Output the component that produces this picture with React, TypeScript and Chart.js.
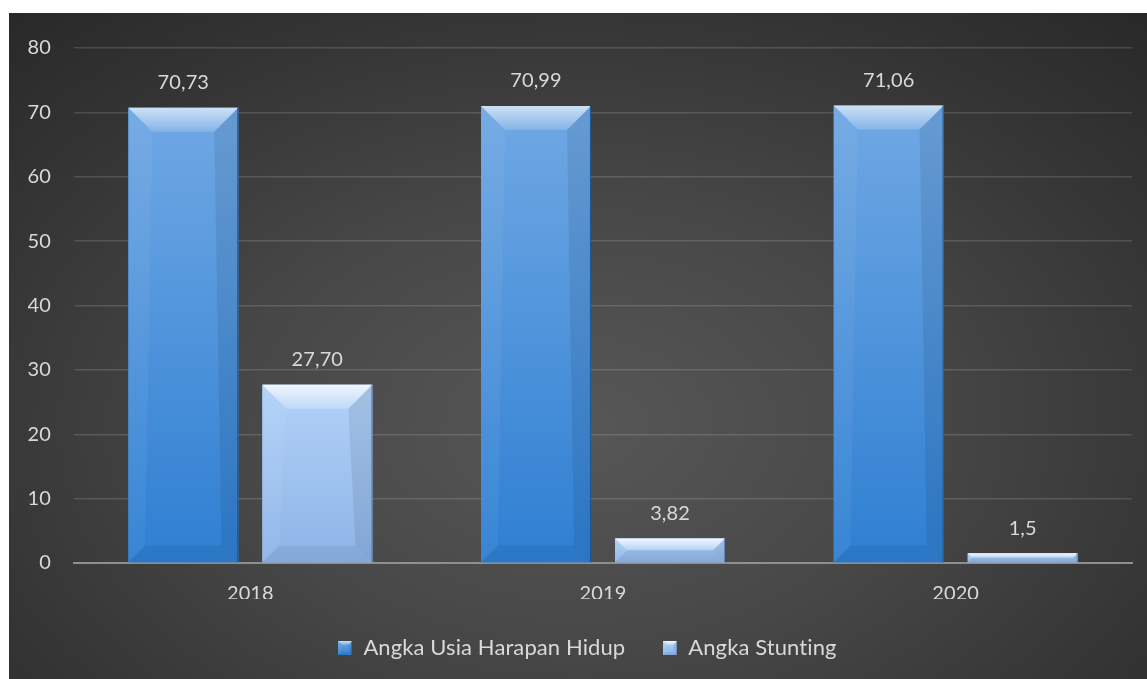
import React, { useEffect, useRef } from "react";
import { Chart, registerables } from "chart.js";

Chart.register(...registerables);

const categories = ["2018", "2019", "2020"];
const seriesNames = ["Angka Usia Harapan Hidup", "Angka Stunting"];
const lifeExpectancy = [70.73, 70.99, 71.06];
const stunting = [27.7, 3.82, 1.5];
const lifeExpectancyLabels = ["70,73", "70,99", "71,06"];
const stuntingLabels = ["27,70", "3,82", "1,5"];
const yMin = 0;
const yMax = 80;
const yStep = 10;

const FONT = "Lato, 'Open Sans', sans-serif";
const TEXT = "#d9d9d9";

type Pal = { top: string; bottom: string; base: string; edge: string; hi: number };
const palettes: Pal[] = [
  { top: "#70a8e4", bottom: "#2e7fd2", base: "#3b85d2", edge: "#1b5591", hi: 0.45 },
  { top: "#b2d2f8", bottom: "#8db4e7", base: "#9dc1ef", edge: "#6088bb", hi: 0.6 },
];

function drawBevelBox(ctx: CanvasRenderingContext2D, l: number, t: number, r: number, b: number, pal: Pal, bevelMax: number) {
  const w = r - l;
  const h = b - t;
  if (h <= 0 || w <= 0) return;
  const bv = Math.min(bevelMax, h / 2, w / 2);
  const bb = Math.min(bevelMax * 0.7, h / 2, w / 2);
  ctx.save();
  const g = ctx.createLinearGradient(0, t, 0, b);
  g.addColorStop(0, pal.top);
  g.addColorStop(1, pal.bottom);
  ctx.fillStyle = g;
  ctx.fillRect(l, t, w, h);
  // top bevel
  const tg = ctx.createLinearGradient(0, t, 0, t + bv);
  tg.addColorStop(0, `rgba(255,255,255,${pal.hi + 0.2})`);
  tg.addColorStop(1, `rgba(255,255,255,${pal.hi * 0.35})`);
  ctx.fillStyle = tg;
  ctx.beginPath();
  ctx.moveTo(l, t);
  ctx.lineTo(r, t);
  ctx.lineTo(r - bv, t + bv);
  ctx.lineTo(l + bv, t + bv);
  ctx.closePath();
  ctx.fill();
  // left bevel
  ctx.fillStyle = "rgba(255,255,255,0.05)";
  ctx.beginPath();
  ctx.moveTo(l, t);
  ctx.lineTo(l + bv, t + bv);
  ctx.lineTo(l + bb, b - bb);
  ctx.lineTo(l, b);
  ctx.closePath();
  ctx.fill();
  // right bevel
  ctx.fillStyle = "rgba(0,0,0,0.08)";
  ctx.beginPath();
  ctx.moveTo(r, t);
  ctx.lineTo(r - bv, t + bv);
  ctx.lineTo(r - bb, b - bb);
  ctx.lineTo(r, b);
  ctx.closePath();
  ctx.fill();
  // bottom bevel
  ctx.fillStyle = "rgba(0,0,0,0.06)";
  ctx.beginPath();
  ctx.moveTo(l, b);
  ctx.lineTo(l + bb, b - bb);
  ctx.lineTo(r - bb, b - bb);
  ctx.lineTo(r, b);
  ctx.closePath();
  ctx.fill();
  // edges
  ctx.strokeStyle = pal.edge;
  ctx.lineWidth = 1;
  ctx.beginPath();
  ctx.moveTo(r - 0.5, t);
  ctx.lineTo(r - 0.5, b);
  ctx.stroke();
  ctx.restore();
}

const noLigaturesPlugin = {
  id: "noLigatures",
  beforeLayout(chart: any) {
    (chart.ctx as any).letterSpacing = "0.1px";
  },
  beforeDraw(chart: any) {
    (chart.ctx as any).letterSpacing = "0.1px";
  },
};

const bevelPlugin = {
  id: "bevelBars",
  afterDatasetsDraw(chart: any) {
    const ctx = chart.ctx as CanvasRenderingContext2D;
    chart.data.datasets.forEach((_ds: any, di: number) => {
      const meta = chart.getDatasetMeta(di);
      meta.data.forEach((el: any) => {
        const { x, y, base, width } = el.getProps(["x", "y", "base", "width"], true);
        drawBevelBox(ctx, x - width / 2, Math.min(y, base), x + width / 2, Math.max(y, base), palettes[di], 24);
      });
    });
  },
};

const valueLabels = [lifeExpectancyLabels, stuntingLabels];

const labelPlugin = {
  id: "valueLabels",
  afterDatasetsDraw(chart: any) {
    const ctx = chart.ctx as CanvasRenderingContext2D;
    ctx.save();
    ctx.font = `20px ${FONT}`;
    ctx.fillStyle = TEXT;
    ctx.textAlign = "center";
    ctx.textBaseline = "middle";
    chart.data.datasets.forEach((_ds: any, di: number) => {
      const meta = chart.getDatasetMeta(di);
      meta.data.forEach((el: any, i: number) => {
        const { x, y } = el.getProps(["x", "y"], true);
        ctx.fillText(valueLabels[di][i], x, y - 25);
      });
    });
    ctx.restore();
  },
};

function makeIcon(pal: Pal): HTMLCanvasElement {
  const c = document.createElement("canvas");
  c.width = 14;
  c.height = 14;
  const cx = c.getContext("2d")!;
  drawBevelBox(cx, 0, 0, 14, 14, pal, 4);
  return c;
}

export default function App() {
  const ref = useRef<HTMLCanvasElement | null>(null);
  useEffect(() => {
    if (!ref.current) return;
    const icons = palettes.map(makeIcon);
    const chart = new Chart(ref.current, {
      type: "bar",
      data: {
        labels: categories,
        datasets: [
          { label: seriesNames[0], data: lifeExpectancy, backgroundColor: palettes[0].base, borderWidth: 0 },
          { label: seriesNames[1], data: stunting, backgroundColor: palettes[1].base, borderWidth: 0 },
        ],
      },
      options: {
        animation: false,
        responsive: false,
        maintainAspectRatio: false,
        datasets: { bar: { categoryPercentage: 0.76, barPercentage: 0.82 } },
        layout: { padding: { top: 30, left: 19, right: 0, bottom: 10 } },
        plugins: {
          tooltip: { enabled: false },
          legend: {
            position: "bottom",
            labels: {
              color: TEXT,
              font: { family: FONT, size: 22 },
              padding: 38,
              usePointStyle: true,
              boxWidth: 14,
              boxHeight: 14,
              generateLabels: (ch: any) => {
                const items = Chart.defaults.plugins.legend.labels.generateLabels(ch);
                return items.map((it: any, i: number) => ({ ...it, pointStyle: icons[i], fontColor: TEXT }));
              },
            },
          },
        },
        scales: {
          x: {
            grid: { display: false, drawTicks: false },
            border: { display: true, color: "#8f8f8f", width: 2 },
            ticks: { color: TEXT, font: { family: FONT, size: 20 }, padding: 19 },
            afterFit: (s: any) => { s.height = 36; },
          },
          y: {
            min: yMin,
            max: yMax,
            ticks: { stepSize: yStep, color: TEXT, font: { family: FONT, size: 20 }, padding: 23 },
            grid: { color: "rgba(255,255,255,0.14)", lineWidth: 1.5, drawTicks: false },
            border: { display: false },
            afterFit: (s: any) => { s.width = 46; },
          },
          y2: {
            position: "right",
            display: true,
            grid: { display: false, drawTicks: false },
            border: { display: false },
            ticks: { display: false },
            afterFit: (s: any) => { s.width = 15; },
          },
        },
      },
      plugins: [noLigaturesPlugin, bevelPlugin, labelPlugin],
    } as any);
    return () => chart.destroy();
  }, []);

  return (
    <div
      style={{
        position: "fixed",
        left: 9,
        top: 13,
        width: 1138,
        height: 666,
        background: "radial-gradient(ellipse 75% 85% at 50% 62%, #575757 0%, #474747 40%, #343434 75%, #282828 100%)",
      }}
    >
      <canvas ref={ref} width={1138} height={666} style={{ display: "block", width: 1138, height: 666 }} />
    </div>
  );
}
